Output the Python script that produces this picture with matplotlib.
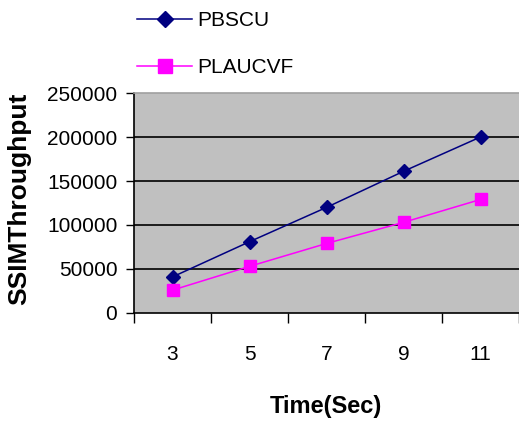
import matplotlib
matplotlib.use("Agg")
import matplotlib.pyplot as plt
import numpy as np

categories = ["3", "5", "7", "9", "11"]
pbscu = [41000, 81000, 120000, 161000, 200000]
plaucvf = [26000, 53000, 79000, 103000, 129000]
yticks = [0, 50000, 100000, 150000, 200000, 250000]

plt.rcParams['font.family'] = ['Liberation Sans', 'DejaVu Sans']

fig = plt.figure(figsize=(5.19, 4.21), dpi=100)
ax = fig.add_axes([134/519, 108/421, 1 - 134/519, 220/421])
ax.set_facecolor('#c0c0c0')

x = np.arange(len(categories))
ax.plot(x, pbscu, color='#000080', marker='D', markersize=7.5, linewidth=1.1, label='PBSCU')
ax.plot(x, plaucvf, color='#ff00ff', marker='s', markersize=9, linewidth=1.1, label='PLAUCVF')

ax.set_xlim(-0.5, len(categories) - 0.5)
ax.set_ylim(0, 250000)
ax.set_yticks(yticks)
ax.set_yticklabels([str(v) for v in yticks])
for v in yticks[1:-1]:
    ax.axhline(v, color='black', linewidth=1.2, zorder=1)

ax.set_xticks(np.arange(-0.5, len(categories) - 0.4, 1.0))
ax.set_xticklabels([])
ax.set_xticks(x, minor=True)
ax.set_xticklabels(categories, minor=True)
ax.tick_params(axis='x', which='major', direction='out', length=7, width=1, color='black')
ax.tick_params(axis='x', which='minor', length=0, pad=23, labelsize=15)
ax.tick_params(axis='y', direction='out', length=6, width=1, pad=6, labelsize=15)

ax.spines['right'].set_visible(False)
ax.spines['top'].set_color('#a0a0a0')
ax.spines['top'].set_linewidth(1.2)
ax.spines['left'].set_linewidth(1.2)
ax.spines['bottom'].set_linewidth(1.2)

fig.text(19/519, 1 - 199/421, 'SSIMThroughput', fontsize=19, fontweight='bold',
         rotation=90, ha='center', va='center')
fig.text(326/519, 1 - 406/421, 'Time(Sec)', fontsize=17, fontweight='bold',
         ha='center', va='center')

fig.legend(loc='upper left', bbox_to_anchor=(137/519, 1 - 11/421), frameon=False,
           fontsize=15, handlelength=2.65, handletextpad=0.25, labelspacing=1.35,
           borderaxespad=0, borderpad=0, markerscale=1.15)

fig.savefig('out.png', dpi=100, facecolor='white')
